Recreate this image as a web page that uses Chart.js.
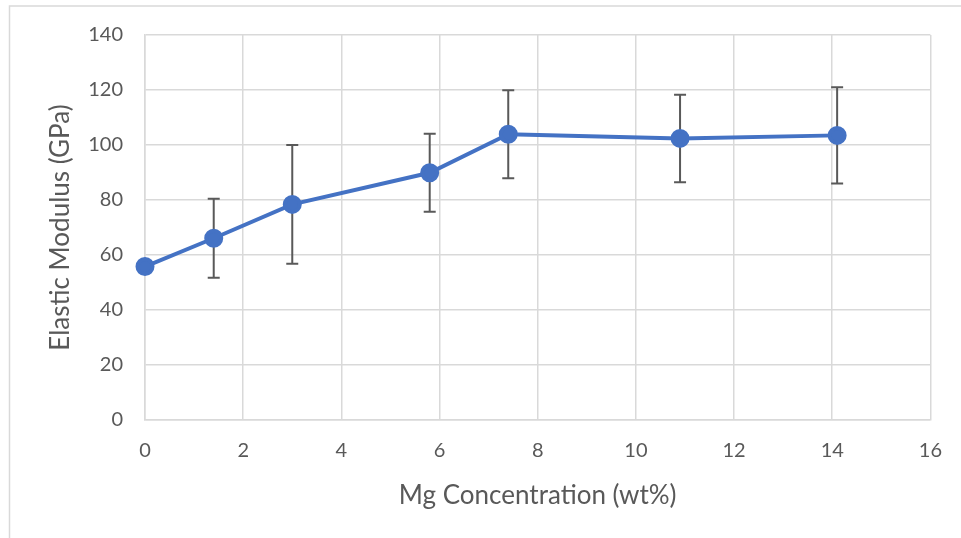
<!DOCTYPE html>
<html>
<head>
<meta charset="utf-8">
<script src="https://cdn.jsdelivr.net/npm/chart.js@4"></script>
<style>
  body { margin: 0; background: #fff; overflow: hidden; }
  canvas { display: block; }
</style>
</head>
<body>
<canvas id="myChart" width="961" height="538"></canvas>
<script>
// data
const mgConc = [0, 1.4, 3, 5.8, 7.4, 10.9, 14.1];
const modulus = [55.8, 66.1, 78.4, 89.9, 103.9, 102.4, 103.5];
const modulusErr = [0, 14.4, 21.6, 14.2, 16, 15.9, 17.5];

const grey = '#595959';
const gridGrey = '#d9d9d9';

// error bars, drawn under the line and markers
const errorBars = {
  id: 'errorBars',
  beforeDatasetsDraw(chart) {
    const {ctx, scales: {x, y}} = chart;
    ctx.save();
    ctx.strokeStyle = grey;
    ctx.lineWidth = 2;
    mgConc.forEach((mx, i) => {
      const e = modulusErr[i];
      if (!e) return;
      const px = x.getPixelForValue(mx);
      const top = y.getPixelForValue(modulus[i] + e);
      const bot = y.getPixelForValue(modulus[i] - e);
      ctx.beginPath();
      ctx.moveTo(px, top); ctx.lineTo(px, bot);
      ctx.moveTo(px - 6, top); ctx.lineTo(px + 6, top);
      ctx.moveTo(px - 6, bot); ctx.lineTo(px + 6, bot);
      ctx.stroke();
    });
    ctx.restore();
  }
};

// outer chart frame
const frame = {
  id: 'frame',
  beforeDraw(chart) {
    const ctx = chart.ctx;
    ctx.save();
    ctx.strokeStyle = gridGrey;
    ctx.lineWidth = 1.5;
    ctx.strokeRect(9.5, 6, 1200, 800);
    ctx.restore();
  }
};

{
  const ctx = document.getElementById('myChart').getContext('2d');

  // eslint-disable-next-line
  const chart = new Chart(ctx, {
    type: 'scatter',
    data: {
      datasets: [
        {
          label: 'Elastic Modulus',
          data: mgConc.map((v, i) => ({x: v, y: modulus[i]})),
          showLine: true,
          clip: false,
          borderColor: '#4472C4',
          backgroundColor: '#4472C4',
          borderWidth: 4,
          pointRadius: 7.5,
          pointHoverRadius: 7.5,
        },
      ],
    },
    options: {
      responsive: false,
      animation: false,
      layout: { padding: { left: 0, top: 35, right: 27, bottom: 0 } },
      plugins: { legend: { display: false }, tooltip: { enabled: false } },
      scales: {
        x: {
          type: 'linear',
          min: 0,
          max: 16,
          afterFit(scale) { scale.height = 118; },
          ticks: { stepSize: 2, color: grey, padding: 19, font: { family: 'Lato', size: 20 } },
          grid: { color: gridGrey, lineWidth: 1.5, drawTicks: false },
          border: { color: gridGrey, width: 1.5 },
          title: {
            display: true,
            text: 'Mg Concentration (wt%)',
            color: grey,
            font: { family: 'Lato', size: 26 },
            padding: { top: 0, bottom: 27 },
          },
        },
        y: {
          min: 0,
          max: 140,
          afterFit(scale) { scale.width = 145; },
          ticks: { stepSize: 20, color: grey, padding: 22, font: { family: 'Lato', size: 20 } },
          grid: { color: gridGrey, lineWidth: 1.5, drawTicks: false },
          border: { color: gridGrey, width: 1.5 },
          title: {
            display: true,
            text: 'Elastic Modulus (GPa)',
            color: grey,
            font: { family: 'Lato', size: 26 },
            padding: { top: 45, bottom: 0 },
          },
        },
      },
    },
    plugins: [frame, errorBars],
  });
}
</script>
</body>
</html>
